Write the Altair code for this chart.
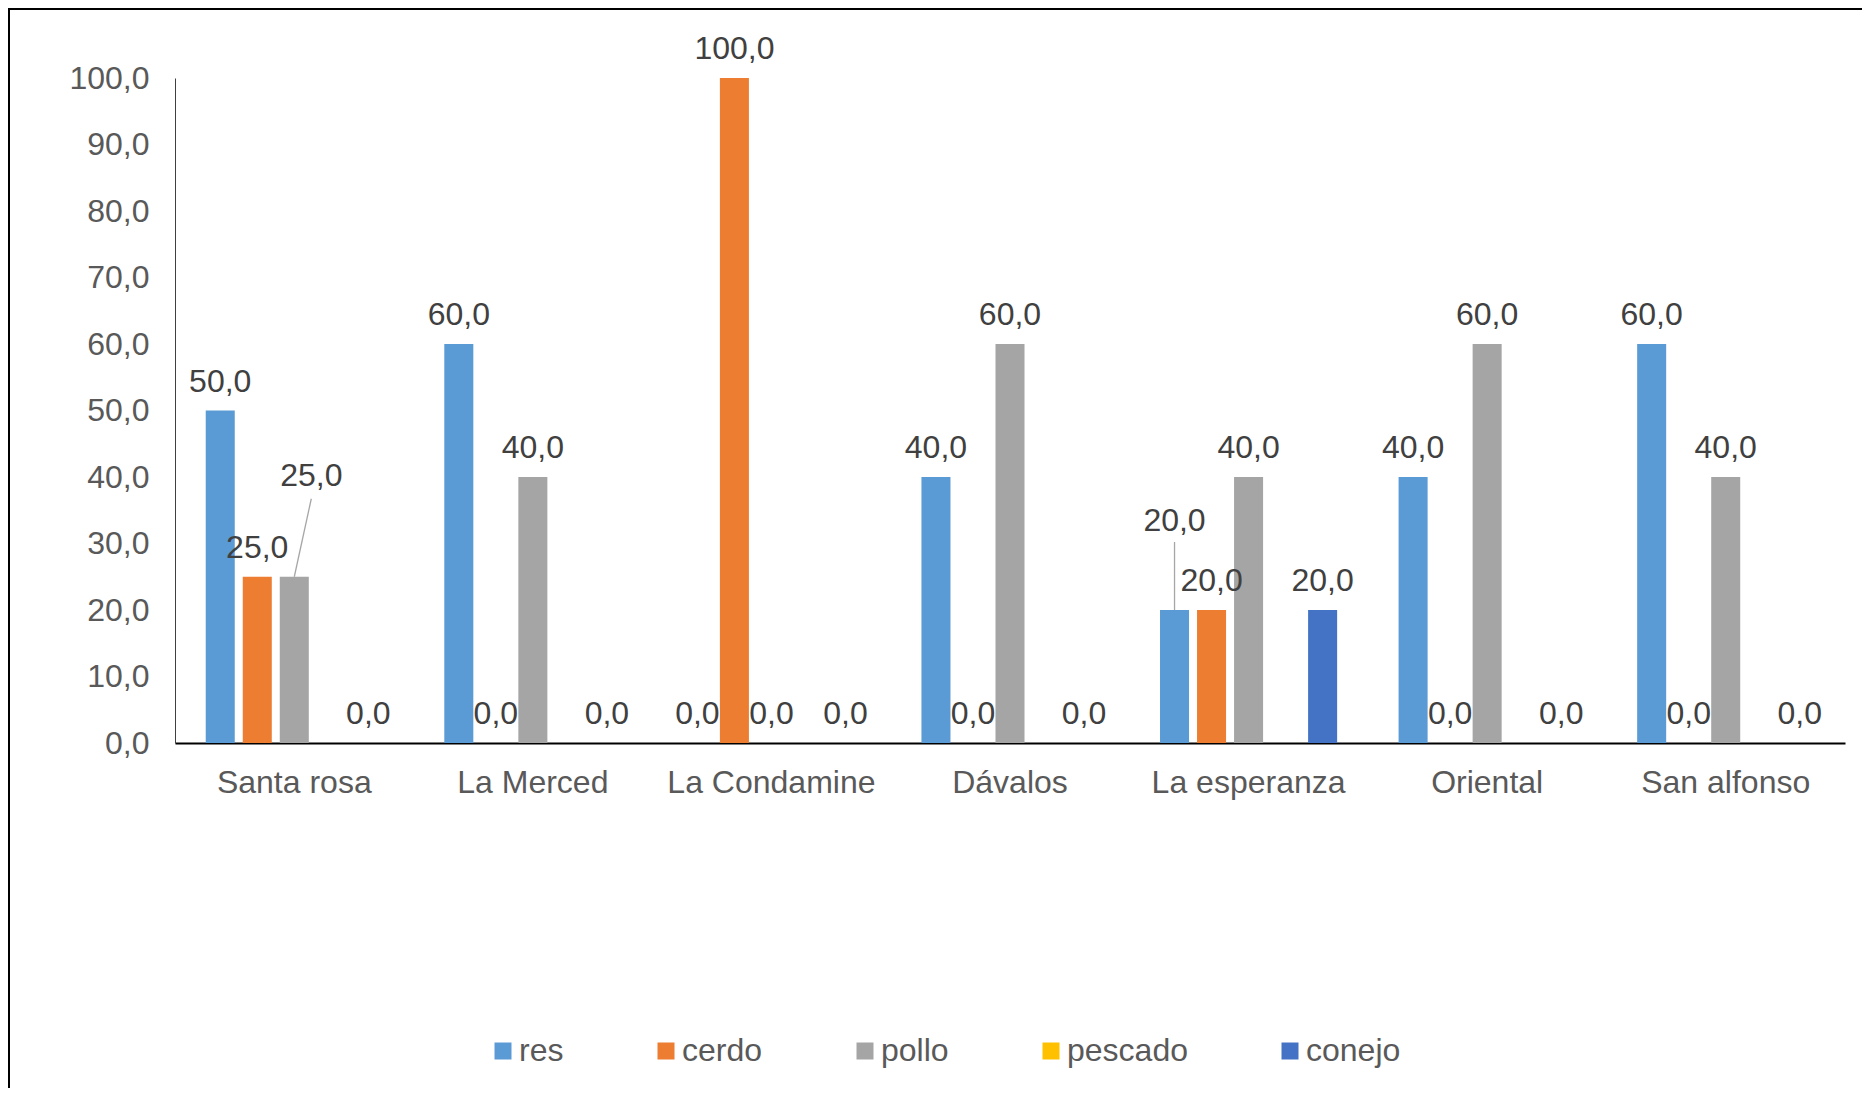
import altair as alt
import pandas as pd

categories = ["Santa rosa", "La Merced", "La Condamine", "Dávalos", "La esperanza", "Oriental", "San alfonso"]
series_order = ["res", "cerdo", "pollo", "pescado", "conejo"]
res = [50.0, 60.0, 0.0, 40.0, 20.0, 40.0, 60.0]
cerdo = [25.0, 0.0, 100.0, 0.0, 20.0, 0.0, 0.0]
pollo = [25.0, 40.0, 0.0, 60.0, 40.0, 60.0, 40.0]
pescado = [0.0, 0.0, 0.0, 0.0, 0.0, 0.0, 0.0]
conejo = [0.0, 0.0, 0.0, 0.0, 20.0, 0.0, 0.0]
colors = ["#5B9BD5", "#ED7D31", "#A5A5A5", "#FFC000", "#4472C4"]
y_ticks = [0, 10, 20, 30, 40, 50, 60, 70, 80, 90, 100]
unlabeled_series = ["pescado"]
leader_slanted = ("Santa rosa", "pollo")
leader_vertical = ("La esperanza", "res")

values = {"res": res, "cerdo": cerdo, "pollo": pollo, "pescado": pescado, "conejo": conejo}
rows = []
for s in series_order:
    for c, v in zip(categories, values[s]):
        if s in unlabeled_series:
            place = "none"
        elif (c, s) == leader_slanted:
            place = "slanted"
        elif (c, s) == leader_vertical:
            place = "vertical"
        else:
            place = "normal"
        rows.append({"category": c, "series": s, "value": v, "place": place})
df = pd.DataFrame(rows)

FONT = "Liberation Sans"
x_enc = alt.X("category:N", sort=categories,
              scale=alt.Scale(domain=categories, paddingInner=0, paddingOuter=0),
              axis=alt.Axis(title=None, labelAngle=0, ticks=False, labelFontSize=32,
                            labelColor="#595959", labelFont=FONT, labelPadding=24,
                            labelLimit=0,
                            domainColor="#000000", domainWidth=2))
xo_enc = alt.XOffset("series:N", sort=series_order,
                     scale=alt.Scale(domain=series_order, paddingInner=0.216, paddingOuter=0.83))
y_enc = alt.Y("value:Q", scale=alt.Scale(domain=[0, 100], nice=False),
              axis=alt.Axis(title=None, values=y_ticks, grid=False, ticks=False,
                            labelFontSize=32, labelColor="#595959", labelFont=FONT,
                            labelPadding=26, domainColor="#404040", domainWidth=1,
                            labelExpr="replace(format(datum.value, '.1f'), '.', ',')"))

base = alt.Chart(df).transform_calculate(
    label="replace(format(datum.value, '.1f'), '.', ',')"
)

bars = base.mark_bar().encode(
    x=x_enc, xOffset=xo_enc, y=y_enc,
    color=alt.Color("series:N", sort=series_order,
                    scale=alt.Scale(domain=series_order, range=colors),
                    legend=alt.Legend(title=None, orient="none", legendX=295, legendY=957,
                                      direction="horizontal", symbolType="square",
                                      symbolSize=289, symbolStrokeWidth=0, symbolOffset=17,
                                      labelFontSize=32, labelColor="#595959", labelFont=FONT,
                                      columnPadding=69, labelOffset=0, padding=0))
)

text_props = dict(fontSize=32, color="#404040", font=FONT, baseline="middle")
labels = base.transform_filter("datum.place == 'normal'").mark_text(dy=-29, **text_props).encode(
    x=alt.X("category:N", sort=categories), xOffset=alt.XOffset("series:N", sort=series_order),
    y="value:Q", text="label:N")
label_sl = base.transform_filter("datum.place == 'slanted'").mark_text(dy=-101, dx=17, **text_props).encode(
    x=alt.X("category:N", sort=categories), xOffset=alt.XOffset("series:N", sort=series_order),
    y="value:Q", text="label:N")
label_vt = base.transform_filter("datum.place == 'vertical'").mark_text(dy=-89, **text_props).encode(
    x=alt.X("category:N", sort=categories), xOffset=alt.XOffset("series:N", sort=series_order),
    y="value:Q", text="label:N")

lead_sl = base.transform_filter("datum.place == 'slanted'").mark_rule(
    color="#A6A6A6", strokeWidth=1.3, x2Offset=17, y2Offset=-78).encode(
    x=alt.X("category:N", sort=categories), xOffset=alt.XOffset("series:N", sort=series_order),
    x2=alt.X2("category:N"), y="value:Q", y2=alt.Y2("value:Q"))
lead_vt = base.transform_filter("datum.place == 'vertical'").mark_rule(
    color="#A6A6A6", strokeWidth=1.3, y2Offset=-68).encode(
    x=alt.X("category:N", sort=categories), xOffset=alt.XOffset("series:N", sort=series_order),
    y="value:Q", y2=alt.Y2("value:Q"))

frame_df = pd.DataFrame({"k": [0]})
frame_top = alt.Chart(frame_df).mark_rule(color="#000000", strokeWidth=2).encode(
    x=alt.value(-167), x2=alt.value(1687), y=alt.value(-69))
frame_left = alt.Chart(frame_df).mark_rule(color="#000000", strokeWidth=2).encode(
    x=alt.value(-166), y=alt.value(-70), y2=alt.value(1010))

chart = alt.layer(bars, lead_sl, lead_vt, labels, label_sl, label_vt, frame_top, frame_left).properties(
    width=1670, height=665,
    padding={"left": 167, "top": 70, "right": 17, "bottom": 345},
    autosize=alt.AutoSizeParams(type="none"),
    background="white",
).configure_view(stroke=None)

chart.save("out.html", embed_options={"renderer": "svg", "actions": False})
